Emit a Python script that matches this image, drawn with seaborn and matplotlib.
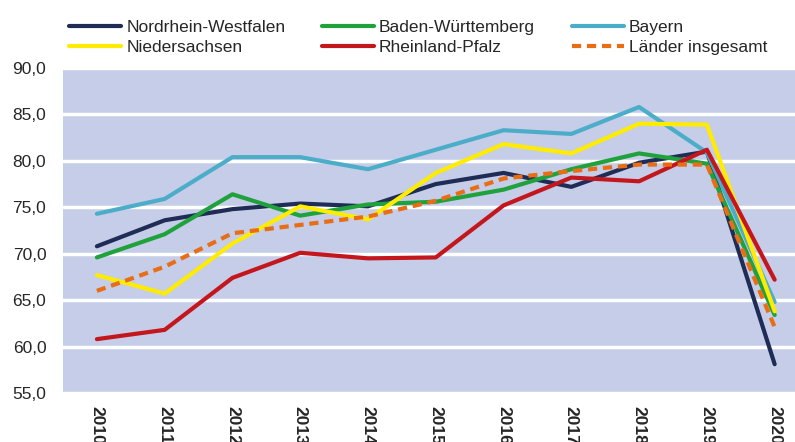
import matplotlib
matplotlib.use("Agg")
import matplotlib.pyplot as plt
import pandas as pd
import seaborn as sns
from matplotlib.ticker import FuncFormatter

years = ["2010", "2011", "2012", "2013", "2014", "2015", "2016", "2017", "2018", "2019", "2020"]

nordrhein_westfalen = [70.8, 73.6, 74.8, 75.4, 75.1, 77.5, 78.7, 77.2, 79.8, 81.0, 58.1]
baden_wuerttemberg = [69.6, 72.1, 76.4, 74.1, 75.3, 75.6, 76.9, 79.1, 80.8, 79.7, 63.4]
bayern = [74.3, 75.9, 80.4, 80.4, 79.1, 81.2, 83.3, 82.9, 85.8, 80.9, 64.8]
niedersachsen = [67.7, 65.7, 71.1, 75.1, 73.7, 78.7, 81.8, 80.8, 84.0, 83.9, 63.8]
rheinland_pfalz = [60.8, 61.8, 67.4, 70.1, 69.5, 69.6, 75.2, 78.2, 77.8, 81.2, 67.2]
laender_insgesamt = [66.0, 68.6, 72.2, 73.1, 74.0, 75.7, 78.1, 78.9, 79.6, 79.6, 62.1]

series = {
    "Nordrhein-Westfalen": nordrhein_westfalen,
    "Baden-Württemberg": baden_wuerttemberg,
    "Bayern": bayern,
    "Niedersachsen": niedersachsen,
    "Rheinland-Pfalz": rheinland_pfalz,
    "Länder insgesamt": laender_insgesamt,
}

line_styles = {
    "Nordrhein-Westfalen": {"color": "#1f2d56", "linestyle": "-"},
    "Baden-Württemberg": {"color": "#1fa23c", "linestyle": "-"},
    "Bayern": {"color": "#4cadc9", "linestyle": "-"},
    "Niedersachsen": {"color": "#ffec00", "linestyle": "-"},
    "Rheinland-Pfalz": {"color": "#c4171d", "linestyle": "-"},
    "Länder insgesamt": {"color": "#e86d14", "linestyle": (0, (2.2, 1.4))},
}

sns.set_theme(style="white")
plt.rcParams["font.family"] = ["Liberation Sans", "DejaVu Sans"]

df = pd.DataFrame({"Jahr": years, **series})
df_melted = df.melt(id_vars=["Jahr"], var_name="Land", value_name="Wert")

fig = plt.figure(figsize=(7.95, 4.42), dpi=100)
ax = fig.add_axes([63 / 795, 49 / 442, 1 - 63 / 795, 325 / 442])
ax.set_facecolor("#c5cde8")

for land in series:
    subset = df_melted[df_melted["Land"] == land]
    sns.lineplot(x=subset["Jahr"], y=subset["Wert"], label=land, ax=ax,
                 linewidth=3.0, sort=False, **line_styles[land])

ax.set_ylim(55, 90)
ax.set_xlim(-0.5, 10.3)
ax.set_yticks([55, 60, 65, 70, 75, 80, 85, 90])
ax.yaxis.set_major_formatter(FuncFormatter(lambda v, _: f"{v:.1f}".replace(".", ",")))
ax.grid(axis="y", color="white", linewidth=2.5)
ax.grid(axis="x", visible=False)
ax.set_axisbelow(True)
for spine in ax.spines.values():
    spine.set_visible(False)
ax.tick_params(axis="y", length=0, labelsize=12.5, pad=12)
ax.tick_params(axis="x", length=0, labelsize=12.5, pad=9)
for lbl in ax.get_xticklabels():
    lbl.set_rotation(270)
    lbl.set_fontweight("bold")
    lbl.set_va("top")
ax.set_xlabel("")
ax.set_ylabel("")

# legend fills column by column, so reorder to read row by row
handles, labels = ax.get_legend_handles_labels()
ax.get_legend().remove()
order = [0, 3, 1, 4, 2, 5]
fig.legend([handles[i] for i in order], [labels[i] for i in order], ncol=3, loc="upper left",
           bbox_to_anchor=(62 / 795, 1 - 13 / 442), frameon=False, fontsize=12.5,
           handlelength=3.0, handletextpad=0.3, columnspacing=2.1, labelspacing=0.25,
           borderaxespad=0)

fig.savefig("out.png", dpi=100)
plt.close(fig)
